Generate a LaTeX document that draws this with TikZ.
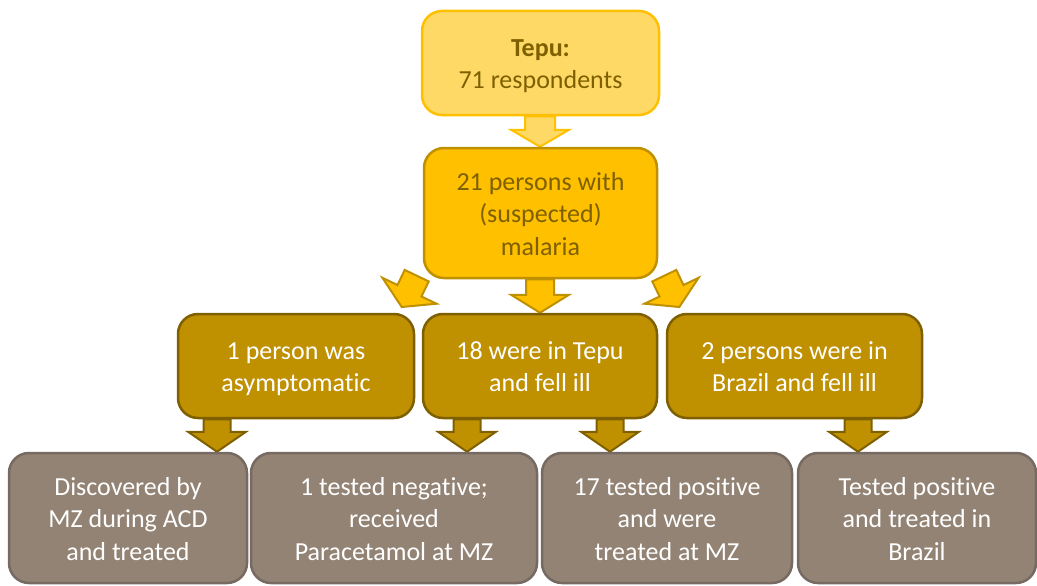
\documentclass[tikz,border=0pt]{standalone}
\usepackage{fontspec}
\setmainfont{Carlito}[RawFeature={-liga;-calt;-dlig;-clig}]
\usetikzlibrary{calc}
\definecolor{goldA}{HTML}{FFC000}
\definecolor{goldL}{HTML}{FFD966}
\definecolor{goldD}{HTML}{BF9000}
\definecolor{goldV}{HTML}{7F6000}
\definecolor{taupe}{HTML}{938374}
\definecolor{taupeD}{HTML}{766A62}
\pgfdeclarelayer{bg}
\pgfsetlayers{bg,main}
\newcommand\Tst{\rule{0pt}{26pt}}
\newcommand\Bst{\rule[-7pt]{0pt}{7pt}}
\newcommand\blkarrow[6]{%
  \coordinate (hb) at ($(#3)!#6!(#2)$);
  \filldraw[#1] ($(#2)!#4!90:(#3)$) -- ($(hb)!#4!90:(#3)$) -- ($(hb)!#5!90:(#3)$)
    -- (#3) -- ($(hb)!#5!-90:(#3)$) -- ($(hb)!#4!-90:(#3)$) -- ($(#2)!#4!-90:(#3)$) -- cycle;}
\tikzset{
  box/.style={rectangle, rounded corners=20pt, line width=2.5pt, align=center,
    font=\fontsize{26}{32.5}\selectfont, inner sep=0pt},
  lvlA/.style={box, fill=goldL, draw=goldA, text=goldV},
  lvlB/.style={box, fill=goldA, draw=goldD, text=goldV},
  lvlC/.style={box, fill=goldD, draw=goldV, text=white},
  lvlD/.style={box, fill=taupe, draw=taupeD, text=white, minimum height=130pt},
  arrA/.style={fill=goldL, draw=goldA, line width=2pt, line join=miter},
  arrB/.style={fill=goldA, draw=goldD, line width=2pt, line join=miter},
  arrC/.style={fill=goldD, draw=goldV, line width=2pt, line join=miter},
}
\begin{document}
\begin{tikzpicture}[x=1pt,y=-1pt]
\useasboundingbox (0,0) rectangle (1037,586);
\node[lvlA, minimum width=237pt, minimum height=104pt] (top) at (540.5,63) {\Tst\textbf{Tepu:}\\71 respondents\Bst};
\node[lvlB, minimum width=233pt, minimum height=130pt] (mid) at (540.5,213) {\Tst 21 persons with\\(suspected)\\malaria\Bst};
\node[lvlC, minimum width=236pt, minimum height=104pt] (A) at (296,366) {\Tst 1 person was\\asymptomatic\Bst};
\node[lvlC, minimum width=234pt, minimum height=104pt] (B) at (540,366) {\Tst 18 were in Tepu\\and fell ill\Bst};
\node[lvlC, minimum width=255pt, minimum height=104pt] (C) at (794.5,366) {\Tst 2 persons were in\\Brazil and fell ill\Bst};
\node[lvlD, minimum width=238pt] (d1) at (128,518) {\Tst Discovered by\\MZ during ACD\\and treated\Bst};
\node[lvlD, minimum width=286pt] (d2) at (394,518) {\Tst 1 tested negative;\\received\\Paracetamol at MZ\Bst};
\node[lvlD, minimum width=250pt] (d3) at (667,518) {\Tst 17 tested positive\\and were\\treated at MZ\Bst};
\node[lvlD, minimum width=238pt] (d4) at (917,518) {\Tst Tested positive\\and treated in\\Brazil\Bst};
\coordinate (ls) at (416.7,275.7);
\coordinate (le) at (401.7,307);
\coordinate (rs) at (664.3,275.7);
\coordinate (re) at (679.3,307);
\begin{pgfonlayer}{bg}
\blkarrow{arrA}{540,0 |- top.south}{540,0 |- mid.north}{15pt}{29pt}{17pt}
\blkarrow{arrB}{540,0 |- mid.south}{540,0 |- B.north}{14pt}{29pt}{18pt}
\blkarrow{arrB}{ls}{le}{13.3pt}{30pt}{18pt}
\blkarrow{arrB}{rs}{re}{13.3pt}{30pt}{18pt}
\blkarrow{arrC}{217,0 |- A.south}{217,0 |- d1.north}{13.5pt}{29pt}{20pt}
\blkarrow{arrC}{467,0 |- B.south}{467,0 |- d2.north}{13.5pt}{29pt}{20pt}
\blkarrow{arrC}{610,0 |- B.south}{610,0 |- d3.north}{13.5pt}{29pt}{20pt}
\blkarrow{arrC}{858,0 |- C.south}{858,0 |- d4.north}{13.5pt}{29pt}{20pt}
\end{pgfonlayer}
\end{tikzpicture}
\end{document}
